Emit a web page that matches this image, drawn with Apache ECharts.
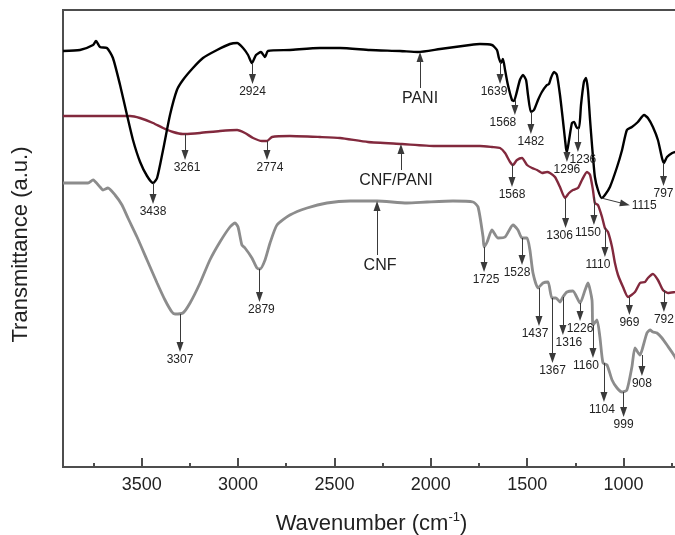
<!DOCTYPE html>
<html>
<head>
<meta charset="utf-8">
<script src="https://cdn.jsdelivr.net/npm/echarts@6/dist/echarts.min.js"></script>
<style>
  body { margin: 0; background: #fff; }
  #chart { width: 675px; height: 535px; }
</style>
</head>
<body>
<div id="chart"></div>
<script>
// wavenumber (cm-1) and transmittance (a.u., offset per curve)
var paniWave = [3908, 3820, 3752, 3737, 3716, 3680, 3649, 3612, 3576, 3545, 3508, 3472, 3441, 3420, 3389, 3353, 3317, 3286, 3234, 3182, 3109, 3042, 3005, 2974, 2948, 2928, 2907, 2881, 2860, 2845, 2731, 2575, 2471, 2316, 2160, 2067, 1952, 1797, 1745, 1683, 1657, 1647, 1636, 1626, 1615, 1600, 1579, 1569, 1558, 1538, 1522, 1506, 1496, 1481, 1465, 1444, 1424, 1398, 1387, 1377, 1361, 1346, 1330, 1315, 1299, 1294, 1283, 1268, 1257, 1242, 1231, 1221, 1206, 1195, 1185, 1174, 1164, 1149, 1133, 1114, 1097, 1071, 1034, 1008, 983, 957, 926, 894, 874, 848, 822, 801, 791, 775, 748, 733, 700];
var paniT = [416, 417, 422, 426, 420, 419, 409, 382, 352, 327, 305, 291, 284, 289, 317, 352, 377, 387, 399, 409, 417, 423, 424, 419, 412, 404, 412, 415, 410, 416, 417, 419, 419, 417, 416, 415, 418, 422, 423, 422, 417, 409, 404, 408, 397, 382, 367, 366, 372, 387, 392, 387, 372, 355, 357, 367, 375, 382, 383, 389, 395, 392, 372, 347, 319, 315, 327, 344, 345, 339, 339, 362, 385, 389, 377, 347, 322, 290, 277, 269, 272, 280, 300, 317, 337, 340, 345, 352, 349, 340, 327, 309, 304, 310, 314, 315, 318];

var cnfPaniWave = [3908, 3716, 3560, 3509, 3441, 3389, 3337, 3286, 3275, 3197, 3094, 3005, 2964, 2922, 2876, 2850, 2824, 2731, 2575, 2471, 2326, 2150, 1978, 1807, 1745, 1683, 1641, 1615, 1589, 1574, 1553, 1527, 1501, 1475, 1449, 1423, 1397, 1382, 1356, 1330, 1304, 1283, 1263, 1237, 1216, 1190, 1174, 1159, 1149, 1133, 1112, 1097, 1081, 1060, 1045, 1029, 1003, 977, 941, 915, 889, 874, 848, 822, 796, 770, 733, 700];
var cnfPaniT = [351, 351, 351, 349, 344, 339, 335, 333, 333, 334, 336, 337, 334, 329, 326, 326, 330, 331, 330, 329, 325, 323, 321, 321, 321, 320, 319, 314, 305, 302, 307, 309, 302, 299, 297, 294, 295, 294, 290, 280, 269, 274, 277, 279, 287, 295, 292, 277, 264, 262, 250, 239, 235, 220, 204, 192, 180, 170, 175, 184, 185, 189, 193, 187, 177, 174, 175, 176];

var cnfWave = [3908, 3820, 3778, 3752, 3716, 3701, 3675, 3638, 3602, 3571, 3524, 3472, 3420, 3379, 3343, 3327, 3286, 3249, 3197, 3146, 3094, 3042, 3016, 3000, 2980, 2964, 2928, 2902, 2886, 2860, 2834, 2798, 2731, 2642, 2539, 2419, 2279, 2124, 2020, 1885, 1781, 1755, 1729, 1724, 1708, 1683, 1652, 1615, 1574, 1548, 1527, 1501, 1486, 1470, 1444, 1418, 1392, 1372, 1351, 1330, 1315, 1294, 1263, 1226, 1200, 1185, 1164, 1159, 1138, 1123, 1107, 1086, 1060, 1034, 1008, 983, 957, 941, 915, 900, 879, 863, 848, 827, 801, 775, 733, 700];
var cnfT = [284, 284, 284, 287, 280, 277, 279, 272, 262, 249, 230, 207, 184, 167, 155, 153, 154, 164, 184, 207, 225, 240, 244, 240, 222, 219, 209, 199, 198, 207, 224, 242, 252, 259, 264, 266, 266, 264, 265, 266, 265, 260, 230, 220, 225, 237, 229, 230, 242, 237, 229, 229, 217, 194, 179, 184, 185, 169, 169, 165, 170, 175, 176, 164, 177, 184, 167, 142, 147, 130, 104, 102, 87, 79, 75, 77, 100, 119, 112, 120, 134, 137, 135, 134, 129, 122, 110, 95];

// peak arrows: [from wavenumber, from T, to wavenumber, to T, label, label shift]
var paniPeaks = [
  [3441, 284, 3441, 268, '3438', 0],
  [2925, 404, 2925, 388, '2924', 0],
  [1641, 405, 1641, 388, '1639', -6],
  [1564, 367, 1564, 357, '1568', -12],
  [1481, 355, 1481, 338, '1482', 0],
  [1294, 315, 1294, 310, '1296', 0],
  [1237, 339, 1237, 320, '1236', 5],
  [1116, 269, 993, 263, '1115', 0],
  [793, 304, 793, 286, '797', 0]
];
var cnfPaniPeaks = [
  [3275, 333, 3275, 312, '3261', 2],
  [2850, 326, 2850, 312, '2774', 3],
  [1579, 303, 1579, 285, '1568', 0],
  [1301, 269, 1301, 244, '1306', -6],
  [1154, 270, 1154, 247, '1150', -6],
  [1097, 239, 1097, 215, '1110', -7],
  [970, 170, 970, 157, '969', 0],
  [791, 177, 791, 160, '792', 0]
];
var cnfPeaks = [
  [3301, 153, 3301, 120, '3307', 0],
  [2889, 198, 2889, 170, '2879', 2],
  [1724, 220, 1724, 200, '1725', 2],
  [1527, 229, 1527, 207, '1528', -5],
  [1439, 179, 1439, 146, '1437', -4],
  [1369, 169, 1369, 109, '1367', 0],
  [1315, 170, 1315, 137, '1316', 6],
  [1226, 164, 1226, 151, '1226', 0],
  [1159, 142, 1159, 114, '1160', -7],
  [1102, 104, 1102, 70, '1104', -2],
  [1000, 75, 1000, 55, '999', 0],
  [905, 112, 905, 96, '908', 0]
];
// curve names with arrow up to the curve: [wavenumber, curve T, arrow bottom T, name, shift]
var curveNames = [
  [2056, 410, 379, 'PANI', 0],
  [2155, 318, 297, 'CNF/PANI', -5],
  [2279, 261, 212, 'CNF', 3]
];

var font = 'Liberation Sans, Arial, sans-serif';

function pad(dx) {
  return dx > 0 ? [0, 0, 0, 2 * dx] : [0, -2 * dx, 0, 0];
}

function peakLines(list) {
  return list.map(function (p) {
    var lab = { formatter: p[4], padding: pad(p[5]) };
    return [
      { coord: [p[0], p[1]], symbol: 'none', label: lab },
      { coord: [p[2], p[3]], symbol: 'triangle', label: lab }
    ];
  });
}

function nameLines(list) {
  return list.map(function (p) {
    var lab = { formatter: p[3], padding: pad(p[4]) };
    return [
      { coord: [p[0], p[1]], symbol: 'triangle', label: lab },
      { coord: [p[0], p[2]], symbol: 'none', label: lab }
    ];
  });
}

function zip(w, t) {
  return w.map(function (v, i) { return [v, t[i]]; });
}

function arrows(list) {
  return {
    silent: true,
    animation: false,
    symbolSize: [7, 10],
    lineStyle: { color: '#3a3a3a', width: 1, type: 'solid' },
    label: { show: true, position: 'end', distance: 7, fontSize: 12, color: '#222', fontFamily: font },
    data: peakLines(list)
  };
}

var chart = echarts.init(document.getElementById('chart'));
chart.setOption({
  animation: false,
  backgroundColor: '#fff',
  grid: {
    left: 63, top: 10, right: -45, bottom: 68,
    outerBoundsMode: 'none', containLabel: false,
    show: true, borderColor: '#4d4d4d', borderWidth: 2
  },
  xAxis: [{
    type: 'value',
    inverse: true,
    min: 500,
    max: 3908,
    interval: 500,
    axisLine: { lineStyle: { color: '#4d4d4d', width: 2 } },
    axisTick: { inside: true, length: 9, lineStyle: { color: '#4d4d4d', width: 2 } },
    axisLabel: {
      margin: 9, fontSize: 18, color: '#222', fontFamily: font,
      formatter: function (v) { return v % 500 === 0 ? String(v) : ''; }
    },
    splitLine: { show: false },
    name: 'Wavenumber (cm{sup|-1})',
    nameLocation: 'middle',
    nameGap: 44,
    nameTextStyle: {
      fontSize: 22, color: '#222', fontFamily: font, padding: [0, 40, 0, 0],
      rich: { sup: { fontSize: 13, fontFamily: font, color: '#222', padding: [0, 0, 12, 0] } }
    }
  }, {
    type: 'value',
    inverse: true,
    position: 'top',
    offset: -457,
    min: 500,
    max: 3908,
    interval: 250,
    axisLine: { show: false },
    axisTick: { inside: false, length: 4, lineStyle: { color: '#4d4d4d', width: 2 } },
    axisLabel: { show: false },
    splitLine: { show: false }
  }],
  yAxis: {
    type: 'value',
    min: 0,
    max: 457,
    axisLine: { lineStyle: { color: '#4d4d4d', width: 2 } },
    axisTick: { show: false },
    axisLabel: { show: false },
    splitLine: { show: false },
    name: 'Transmittance (a.u.)',
    nameLocation: 'middle',
    nameGap: 31,
    nameTextStyle: { fontSize: 22, color: '#222', fontFamily: font, padding: [0, 12, 0, 0] }
  },
  series: [
    {
      name: 'CNF',
      type: 'line',
      data: zip(cnfWave, cnfT),
      showSymbol: false,
      smooth: 0.2,
      lineStyle: { color: '#8c8c8c', width: 2.8 },
      markLine: arrows(cnfPeaks)
    },
    {
      name: 'CNF/PANI',
      type: 'line',
      data: zip(cnfPaniWave, cnfPaniT),
      showSymbol: false,
      smooth: 0.2,
      lineStyle: { color: '#82293d', width: 2.4 },
      markLine: arrows(cnfPaniPeaks)
    },
    {
      name: 'PANI',
      type: 'line',
      data: zip(paniWave, paniT),
      showSymbol: false,
      smooth: 0.2,
      lineStyle: { color: '#000', width: 2.4 },
      markLine: arrows(paniPeaks)
    },
    {
      name: 'names',
      type: 'line',
      data: [],
      markLine: {
        silent: true,
        animation: false,
        symbolSize: [7, 10],
        lineStyle: { color: '#3a3a3a', width: 1, type: 'solid' },
        label: { show: true, position: 'end', distance: 3, fontSize: 16, color: '#222', fontFamily: font },
        data: nameLines(curveNames)
      }
    }
  ]
});
</script>
</body>
</html>
